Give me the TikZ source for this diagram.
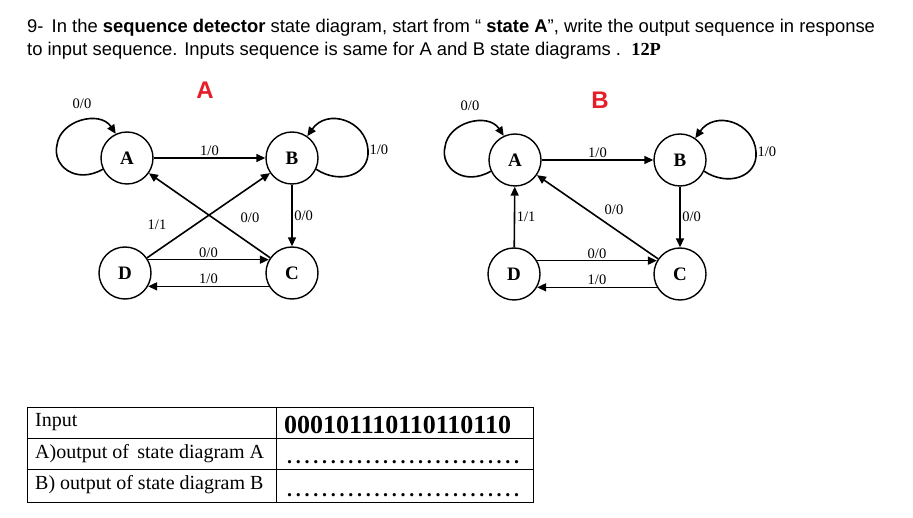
\documentclass[tikz,border=0pt]{standalone}
\usepackage{fontspec}
\setmainfont{Liberation Sans}
\newfontfamily\serif{Liberation Serif}
\usetikzlibrary{arrows.meta}
\definecolor{titred}{RGB}{230,30,40}
\newcommand{\dd}{.\hfill}
\newcommand{\dotrow}{\hbox to 232pt{\dd\dd\dd\dd\dd\dd\dd\dd\dd\dd\dd\dd\dd\dd\dd\dd\dd\dd\dd\dd\dd\dd\dd\dd\dd\dd.}}
\begin{document}
\begin{tikzpicture}[x=1pt,y=-1pt,
  st/.style={circle,draw,line width=1.4pt,minimum size=52pt,inner sep=0pt,font=\serif\bfseries\fontsize{19}{19}\selectfont},
  tr/.style={draw,line width=1.6pt,-{Triangle[length=9pt,width=8pt]}},
  lb/.style={font=\serif\fontsize{14.5}{15}\selectfont,inner sep=1.5pt},
  hd/.style={font=\fontsize{18.4}{20}\selectfont,anchor=base west,inner sep=0pt},
  cell/.style={font=\serif\fontsize{20}{22}\selectfont,anchor=base west,inner sep=0pt}]
\useasboundingbox (0,0) rectangle (913,518);
\fill[white] (0,0) rectangle (913,518);
% header
\node[hd] (h1) at (27,33) {9-\, In the \textbf{sequence detector} state diagram, start from “ \textbf{state A}”, write the output sequence in response};
\node[hd] (h2) at (27,56) {to input sequence. Inputs sequence is same for A and B state diagrams .\ \ {\serif\bfseries 12P}};
% diagram A
\node[font=\bfseries\fontsize{24}{24}\selectfont,text=titred] (tA) at (205,90) {A};
\node[st] (a1) at (127,158) {A};
\node[st] (b1) at (292,158) {B};
\node[st] (d1) at (125,273) {D};
\node[st] (c1) at (292,273) {C};
\draw[tr] (a1) -- node[lb,above]{1/0} (b1);
\draw[tr] (b1) -- node[lb,right]{0/0} (c1);
\draw[tr] (c1) -- (a1);
\draw[tr] (d1) -- (b1);
\node[lb] (l1) at (250,218) {0/0};
\node[lb] (l2) at (157,225) {1/1};
\draw[tr] (d1.30) -- node[lb,above]{0/0} (c1.150);
\draw[tr] (c1.210) -- node[lb,above]{1/0} (d1.-30);
\draw[tr] (a1.205) .. controls ([shift={(-52,27)}]a1.center) and ([shift={(-75,7)}]a1.center) .. ([shift={(-70,-13)}]a1.center) .. controls ([shift={(-67,-38)}]a1.center) and ([shift={(-27,-48)}]a1.center) .. (a1.115);
\node[lb] (l4) at (82,104) {0/0};
\draw[tr] (b1.-25) .. controls ([shift={(48,27)}]b1.center) and ([shift={(78,17)}]b1.center) .. ([shift={(76,-8)}]b1.center) coordinate (q1) .. controls ([shift={(74,-38)}]b1.center) and ([shift={(35,-50)}]b1.center) .. (b1.55);
\node[lb,right] (l6) at (q1) {1/0};
% diagram B
\node[font=\bfseries\fontsize{24}{24}\selectfont,text=titred] (tB) at (600,100) {B};
\node[st] (a2) at (515,160) {A};
\node[st] (b2) at (680,160) {B};
\node[st] (d2) at (514,274) {D};
\node[st] (c2) at (680,274) {C};
\draw[tr] (a2) -- node[lb,above]{1/0} (b2);
\draw[tr] (b2) -- node[lb,right]{0/0} (c2);
\draw[tr] (c2) -- (a2);
\draw[tr] (d2) -- node[lb,right]{1/1} (a2);
\node[lb] (l3) at (614,210) {0/0};
\draw[tr] (d2.30) -- node[lb,above]{0/0} (c2.150);
\draw[tr] (c2.210) -- node[lb,above]{1/0} (d2.-30);
\draw[tr] (a2.205) .. controls ([shift={(-52,27)}]a2.center) and ([shift={(-75,7)}]a2.center) .. ([shift={(-70,-13)}]a2.center) .. controls ([shift={(-67,-38)}]a2.center) and ([shift={(-27,-48)}]a2.center) .. (a2.115);
\node[lb] (l5) at (470,106) {0/0};
\draw[tr] (b2.-25) .. controls ([shift={(48,27)}]b2.center) and ([shift={(78,17)}]b2.center) .. ([shift={(76,-8)}]b2.center) coordinate (q2) .. controls ([shift={(74,-38)}]b2.center) and ([shift={(35,-50)}]b2.center) .. (b2.55);
\node[lb,right] (l7) at (q2) {1/0};
% table
\draw[line width=0.8pt] (27,407) rectangle (533,502);
\draw[line width=0.8pt] (276,407) -- (276,502);
\draw[line width=0.8pt] (27,438) -- (533,438);
\draw[line width=0.8pt] (27,469) -- (533,469);
\node[cell] (t1) at (35,427) {Input};
\node[cell] (t2) at (35,458) {A)output of\, state diagram A};
\node[cell] (t3) at (35,489) {B) output of state diagram B};
\node[cell,font=\serif\bfseries\fontsize{26}{26}\selectfont] (t4) at (284,433) {000101110110110110};
\node[cell,font=\serif\bfseries\fontsize{20}{20}\selectfont] (t5) at (287,463) {\dotrow};
\node[cell,font=\serif\bfseries\fontsize{20}{20}\selectfont] (t6) at (287,496) {\dotrow};
\end{tikzpicture}
\end{document}
